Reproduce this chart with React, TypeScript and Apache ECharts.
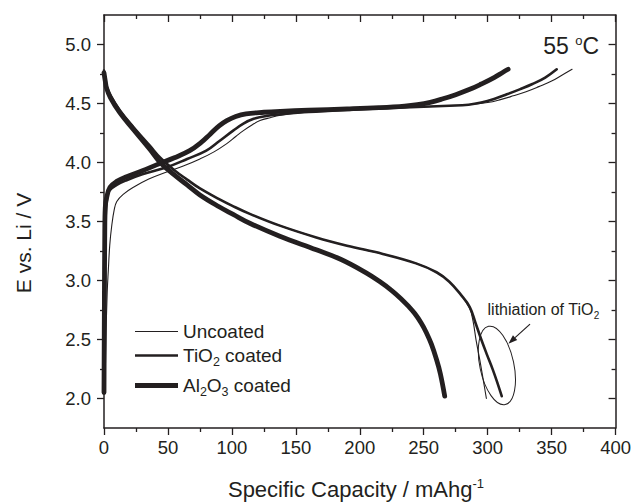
import React, { useEffect, useRef } from "react";
import * as echarts from "echarts";

const FONT = '"Liberation Sans", Arial, Helvetica, sans-serif';
const INK = "#231f20";

// ---------- data ----------
const seriesNames = ["Uncoated", "TiO2 coated", "Al2O3 coated"];
const seriesRich = [
  "{a|Uncoated}",
  "{a|TiO}{b|2}{a| coated}",
  "{a|Al}{b|2}{a|O}{b|3}{a| coated}",
];

const uncoatedCharge = [
  [0.8, 2.05], [1.5, 2.5], [2.5, 2.9], [3.4, 3.09], [4.5, 3.3], [6, 3.46], [8, 3.6],
  [10, 3.67], [15, 3.73], [23, 3.79], [35, 3.86], [49, 3.92], [62, 3.97], [75, 4.03],
  [86, 4.09], [96, 4.16], [103, 4.22], [109, 4.27], [116, 4.32], [122, 4.355],
  [130, 4.38], [138, 4.4], [150, 4.418], [175, 4.438], [200, 4.453], [230, 4.466],
  [262, 4.477], [285, 4.489], [300, 4.508], [310, 4.533], [320, 4.565], [330, 4.6],
  [340, 4.643], [350, 4.69], [358, 4.74], [366, 4.79],
];
const uncoatedDischarge = [
  [0, 4.78], [1, 4.71], [2, 4.65], [5, 4.57], [12.5, 4.44], [23, 4.3], [36, 4.14],
  [44, 4.04], [55, 3.935], [65, 3.855], [75, 3.78], [90, 3.69], [100, 3.635], [114, 3.565],
  [137.5, 3.465], [166, 3.365], [190, 3.295], [218, 3.225], [244, 3.145], [260, 3.07],
  [270, 2.99], [279, 2.88], [286, 2.76], [288.5, 2.66], [291, 2.49], [293.8, 2.33],
  [296.5, 2.16], [299, 2.0],
];

const tioCharge = [
  [0.3, 2.05], [0.6, 2.8], [1, 3.3], [1.5, 3.6], [2.5, 3.7], [4, 3.76], [10, 3.81],
  [17.7, 3.85], [30, 3.9], [49, 3.96], [65, 4.03], [80, 4.1], [90, 4.18], [101, 4.27],
  [109, 4.33], [117, 4.37], [127, 4.395], [138, 4.408], [160, 4.428], [190, 4.446],
  [220, 4.46], [250, 4.473], [270, 4.481], [285, 4.49], [295, 4.508], [305, 4.538],
  [315, 4.578], [325, 4.62], [335, 4.665], [345, 4.72], [354, 4.79],
];
const tioDischarge = [
  [0, 4.78], [1, 4.71], [2, 4.65], [5, 4.57], [12.5, 4.44], [23, 4.3], [36, 4.14],
  [44, 4.04], [55, 3.935], [65, 3.855], [75, 3.78], [90, 3.69], [100, 3.635], [114, 3.565],
  [137.5, 3.465], [166, 3.365], [190, 3.295], [218, 3.225], [244, 3.145], [260, 3.07],
  [270, 2.99], [279, 2.88], [286, 2.775], [290.5, 2.64], [295, 2.5], [299.5, 2.37],
  [304, 2.245], [308, 2.12], [311, 2.02],
];

const alCharge = [
  [0, 2.05], [0.3, 2.8], [0.6, 3.4], [1, 3.62], [2, 3.7], [4.7, 3.79], [10, 3.84],
  [17.7, 3.88], [30, 3.93], [41, 3.98], [55, 4.04], [67, 4.1], [76, 4.17], [83, 4.24],
  [90, 4.31], [96, 4.355], [103, 4.39], [111, 4.412], [125, 4.426], [138, 4.434],
  [160, 4.443], [190, 4.454], [215, 4.465], [235, 4.478], [245, 4.49], [255, 4.51],
  [265, 4.54], [275, 4.575], [286, 4.62], [295, 4.665], [305, 4.72], [312, 4.765],
  [316, 4.79],
];
const alDischarge = [
  [0, 4.76], [1, 4.69], [2, 4.63], [5, 4.55], [12.5, 4.42], [23, 4.28], [36, 4.11],
  [44, 4.0], [55, 3.895], [65, 3.81], [75, 3.725], [90, 3.625], [101, 3.56], [114, 3.485],
  [137.5, 3.375], [166, 3.26], [185, 3.18], [205, 3.065], [215, 2.995], [225, 2.915],
  [232, 2.848], [238, 2.782], [243, 2.72], [248, 2.64], [252, 2.56], [256, 2.46],
  [260, 2.33], [263, 2.21], [266.4, 2.02],
];

const xMin = 0;
const xMax = 400;
const xInterval = 50;
const yMin = 1.75;
const yMax = 5.25;
const yTicks = [2.0, 2.5, 3.0, 3.5, 4.0, 4.5, 5.0];
const yMinorTicks = [2.25, 2.75, 3.25, 3.75, 4.25, 4.75];

// annotation anchors in data coordinates
const ellipseCenter = [307.2, 2.28];
const arrowFrom = [333.1, 2.63];
const arrowTo = [316.2, 2.465];
const noteAnchor = [299.9, 2.71];

export default function App() {
  const ref = useRef<HTMLDivElement>(null);

  useEffect(() => {
    const el = ref.current;
    if (!el) return;
    const chart = echarts.init(el, null, { renderer: "svg" });

    const widths = [1.1, 2.6, 4.8];
    const datasets = [
      [uncoatedCharge, uncoatedDischarge],
      [tioCharge, tioDischarge],
      [alCharge, alDischarge],
    ];
    const series: any[] = [];
    datasets.forEach((pair, i) => {
      pair.forEach((data) => {
        series.push({
          type: "line",
          name: seriesNames[i],
          data,
          xAxisIndex: 0,
          yAxisIndex: 0,
          symbol: "none",
          showSymbol: false,
          smooth: 0.4,
          silent: true,
          lineStyle: { color: INK, width: widths[i], cap: "round", join: "round" },
          itemStyle: { color: INK },
        });
      });
    });

    const legendTops = [322, 346, 376];
    const legendHeights = [1.2, 2.6, 5];
    const legends = seriesNames.map((name, i) => ({
      data: [name],
      left: 135,
      top: legendTops[i],
      orient: "vertical",
      padding: 0,
      itemGap: 0,
      icon: "rect",
      itemWidth: 43,
      itemHeight: legendHeights[i],
      selectedMode: false,
      itemStyle: { color: INK, borderWidth: 0 },
      formatter: () => seriesRich[i],
      textStyle: {
        color: INK,
        fontFamily: FONT,
        fontSize: 19,
        rich: {
          a: { fontSize: 19, lineHeight: 26, color: INK, fontFamily: FONT },
          b: { fontSize: 12.5, lineHeight: 8, verticalAlign: "bottom", color: INK, fontFamily: FONT },
        },
      },
    }));

    const axisLine = { show: true, lineStyle: { color: INK, width: 1.5 } };
    const tickStyle = { color: INK, width: 1.3 };

    const option: any = {
      animation: false,
      backgroundColor: "#ffffff",
      grid: { left: 104, right: 18, top: 15, bottom: 75, containLabel: false },
      legend: legends,
      xAxis: [
        {
          type: "value",
          position: "bottom",
          min: xMin,
          max: xMax,
          interval: xInterval,
          axisLine,
          axisTick: { show: true, inside: false, length: 7, lineStyle: tickStyle },
          minorTick: { show: true, splitNumber: 2, length: 4, lineStyle: tickStyle },
          axisLabel: { show: true, color: INK, fontFamily: FONT, fontSize: 18.5, margin: 10 },
          splitLine: { show: false },
          minorSplitLine: { show: false },
        },
        {
          type: "value",
          position: "top",
          min: xMin,
          max: xMax,
          interval: xInterval,
          axisLine,
          axisTick: { show: true, inside: true, length: 7, lineStyle: tickStyle },
          minorTick: { show: true, splitNumber: 2, length: 4, lineStyle: tickStyle },
          axisLabel: { show: false },
          splitLine: { show: false },
        },
      ],
      yAxis: [
        {
          type: "value",
          position: "left",
          min: yMin,
          max: yMax,
          axisLine,
          axisTick: { show: true, inside: false, length: 7, customValues: yTicks, lineStyle: tickStyle },
          axisLabel: {
            show: true,
            customValues: yTicks,
            color: INK,
            fontFamily: FONT,
            fontSize: 18.5,
            margin: 13,
            formatter: (v: number) => v.toFixed(1),
          },
          splitLine: { show: false },
        },
        {
          type: "value",
          position: "left",
          min: yMin,
          max: yMax,
          axisLine: { show: false },
          axisTick: { show: true, inside: false, length: 4, customValues: yMinorTicks, lineStyle: tickStyle },
          axisLabel: { show: false },
          splitLine: { show: false },
        },
        {
          type: "value",
          position: "right",
          min: yMin,
          max: yMax,
          axisLine,
          axisTick: { show: true, inside: true, length: 7, customValues: yTicks, lineStyle: tickStyle },
          axisLabel: { show: false },
          splitLine: { show: false },
        },
        {
          type: "value",
          position: "right",
          min: yMin,
          max: yMax,
          axisLine: { show: false },
          axisTick: { show: true, inside: true, length: 4, customValues: yMinorTicks, lineStyle: tickStyle },
          axisLabel: { show: false },
          splitLine: { show: false },
        },
      ],
      series,
    };

    chart.setOption(option);

    const toPx = (p: number[]) =>
      chart.convertToPixel({ xAxisIndex: 0, yAxisIndex: 0 }, p) as number[];
    const c = toPx(ellipseCenter);
    const a0 = toPx(arrowFrom);
    const a1 = toPx(arrowTo);
    const n = toPx(noteAnchor);
    const dx = a1[0] - a0[0];
    const dy = a1[1] - a0[1];
    const len = Math.hypot(dx, dy);
    const ux = dx / len;
    const uy = dy / len;
    const headL = 9;
    const headW = 3.2;
    const bx = a1[0] - ux * headL;
    const by = a1[1] - uy * headL;
    const px = -uy;
    const py = ux;

    chart.setOption({
      graphic: [
        {
          type: "text",
          x: 23,
          y: 243,
          rotation: Math.PI / 2,
          style: {
            text: "E vs. Li / V",
            fill: INK,
            fontSize: 21,
            fontFamily: FONT,
            align: "center",
            verticalAlign: "middle",
          },
        },
        {
          type: "text",
          x: 356,
          y: 489,
          style: {
            text: "{a|Specific Capacity / mAhg}{s|-1}",
            align: "center",
            verticalAlign: "middle",
            fill: INK,
            rich: {
              a: { fontSize: 22, lineHeight: 24, fontFamily: FONT, fill: INK },
              s: { fontSize: 13, lineHeight: 10, verticalAlign: "top", fontFamily: FONT, fill: INK },
            },
          },
        },
        {
          type: "text",
          x: 599,
          y: 34,
          style: {
            text: "{a|55 }{s|o}{a|C}",
            align: "right",
            verticalAlign: "top",
            fill: INK,
            rich: {
              a: { fontSize: 23, lineHeight: 24, fontFamily: FONT, fill: INK },
              s: { fontSize: 13, lineHeight: 12, verticalAlign: "top", fontFamily: FONT, fill: INK },
            },
          },
        },
        {
          type: "text",
          x: n[0],
          y: n[1] - 16.5,
          style: {
            text: "{a|lithiation of TiO}{b|2}",
            align: "left",
            verticalAlign: "top",
            fill: INK,
            rich: {
              a: { fontSize: 16, lineHeight: 22, fontFamily: FONT, fill: INK },
              b: { fontSize: 10, lineHeight: 6, verticalAlign: "bottom", fontFamily: FONT, fill: INK },
            },
          },
        },
        {
          type: "ellipse",
          x: c[0],
          y: c[1],
          rotation: 0.21,
          shape: { cx: 0, cy: 0, rx: 17, ry: 40 },
          style: { fill: "none", stroke: INK, lineWidth: 1 },
        },
        {
          type: "line",
          shape: { x1: a0[0], y1: a0[1], x2: bx, y2: by },
          style: { stroke: INK, lineWidth: 1.2 },
        },
        {
          type: "polygon",
          shape: {
            points: [
              [a1[0], a1[1]],
              [bx + px * headW, by + py * headW],
              [bx - px * headW, by - py * headW],
            ],
          },
          style: { fill: INK, stroke: "none" },
        },
      ],
    });

    return () => chart.dispose();
  }, []);

  return (
    <div
      ref={ref}
      style={{
        position: "fixed",
        left: 0,
        top: 0,
        width: 634,
        height: 503,
        background: "#ffffff",
      }}
    />
  );
}
